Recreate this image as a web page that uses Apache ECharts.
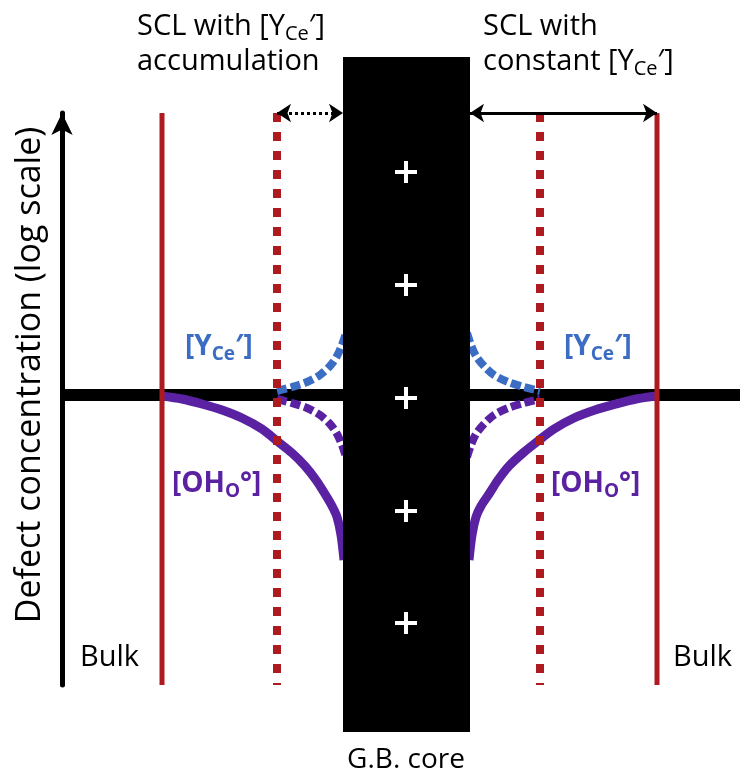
<!DOCTYPE html>
<html>
<head>
<meta charset="utf-8">
<script src="https://cdn.jsdelivr.net/npm/echarts@6/dist/echarts.min.js"></script>
<style>
  html, body { margin: 0; padding: 0; background: #fff; }
  #main { width: 740px; height: 783px; }
</style>
</head>
<body>
<div id="main"></div>
<script>
// x = distance (arbitrary units), y = log concentration relative to bulk (0)
const xRange = [0, 678];
const yRange = [-290, 282];

const bulkLevel = [[0, 0], [678, 0]];
const bulkEdges = [100, 595];        // solid red lines
const sclEdges = [215, 478];         // dotted red lines
const core = [281, 338, 408, -337];  // x0, yTop, x1, yBottom
const plusX = 344;
const plusY = [223, 110, -3, -116, -228];

// [OHo°] solid, full SCL
const ohLeft = [[100, -1], [120, -4], [140, -9], [160, -15], [180, -23], [200, -34], [215, -46],
  [230, -58], [243, -71], [254, -85], [263, -99], [270, -111], [275, -122], [279, -140], [282, -165]];
const ohRight = [[407, -165], [410, -140], [414, -122], [419, -111], [427, -99], [436, -85], [447, -71],
  [461, -58], [476, -46], [492, -34], [512, -23], [533, -15], [554, -9], [574, -4], [595, -1]];

// dashed: accumulation case
const yLeftDash = [[215, 4], [230, 8], [245, 13], [258, 20], [268, 29], [275, 39], [280, 50], [284, 62]];
const yRightDash = [[405, 62], [409, 50], [414, 39], [422, 29], [432, 20], [446, 13], [462, 8], [478, 4]];
const ohLeftDash = [[215, -4], [230, -8], [245, -13], [258, -20], [268, -29], [275, -39], [280, -50], [284, -62]];
const ohRightDash = [[405, -62], [409, -50], [414, -39], [422, -29], [432, -20], [446, -13], [462, -8], [478, -4]];

const arrowTop = 282;

const RED = '#ad1a20';
const BLUE = '#3b6dc4';
const PURPLE = '#5a22a2';
const FONT = '"Open Sans", "Noto Sans", sans-serif';

const myChart = echarts.init(document.getElementById('main'));

function curve(data, color, dashed) {
  return {
    type: 'line', data: data, smooth: 0.3, symbol: 'none', z: 2,
    lineStyle: { color: color, width: dashed ? 8 : 9, type: dashed ? [10, 4] : 'solid' }
  };
}
function vline(x, dotted) {
  return {
    type: 'line', data: [[x, yRange[1]], [x, yRange[0]]], symbol: 'none', z: 4,
    lineStyle: { color: RED, width: dotted ? 8 : 5, type: dotted ? [9, 10] : 'solid' }
  };
}

const subRich = (color, size, bold) => ({
  n: { fontSize: size, fontFamily: FONT, fill: color, fontWeight: bold ? 'bold' : 'normal', lineHeight: size + 6 },
  s: { fontSize: Math.round(size * 0.68), fontFamily: FONT, fill: color, fontWeight: bold ? 'bold' : 'normal',
       verticalAlign: 'bottom', lineHeight: Math.round(size * 0.6) }
});

function label(x, y, text, color, size, bold, align) {
  return {
    type: 'text', x: x, y: y, z: 10,
    style: { text: text, fill: color, rich: subRich(color, size, bold), align: align || 'left', verticalAlign: 'middle' }
  };
}

myChart.setOption({
  animation: false,
  grid: { left: 62, right: 0, top: 113, bottom: 98 },
  xAxis: { type: 'value', min: xRange[0], max: xRange[1], show: false },
  yAxis: {
    type: 'value', min: yRange[0], max: yRange[1],
    axisLine: { show: true, onZero: false, symbol: ['none', 'arrow'], symbolSize: [16, 22],
      lineStyle: { color: '#000', width: 5 } },
    axisTick: { show: false }, axisLabel: { show: false }, splitLine: { show: false }
  },
  graphic: [
    { type: 'text', x: 30, y: 375, rotation: Math.PI / 2, z: 10,
      style: { text: 'Defect concentration (log scale)', font: '34px ' + FONT, fill: '#000',
        align: 'center', verticalAlign: 'middle' } },
    label(137, 44, '{n|SCL with [Y}{s|Ce}{n|′]}\n{n|accumulation}', '#000', 29, false),
    label(483, 44, '{n|SCL with}\n{n|constant [Y}{s|Ce}{n|′]}', '#000', 29, false),
    label(185, 347, '{n|[Y}{s|Ce}{n|′]}', BLUE, 28, true),
    label(564, 347, '{n|[Y}{s|Ce}{n|′]}', BLUE, 28, true),
    label(172, 484, '{n|[OH}{s|O}{n|°]}', PURPLE, 28, true),
    label(551, 484, '{n|[OH}{s|O}{n|°]}', PURPLE, 28, true),
    label(80, 658, '{n|Bulk}', '#000', 29, false),
    label(673, 658, '{n|Bulk}', '#000', 29, false),
    label(406, 760, '{n|G.B. core}', '#000', 28, false, 'center')
  ],
  series: [
    { type: 'line', data: bulkLevel, symbol: 'none', z: 1, lineStyle: { color: '#000', width: 12 } },
    curve(ohLeft, PURPLE, false),
    curve(ohRight, PURPLE, false),
    curve(yLeftDash, BLUE, true),
    curve(yRightDash, BLUE, true),
    curve(ohLeftDash, PURPLE, true),
    curve(ohRightDash, PURPLE, true),
    {
      type: 'custom', z: 3, clip: false,
      data: [core],
      renderItem: function (params, api) {
        const p0 = api.coord([api.value(0), api.value(1)]);
        const p1 = api.coord([api.value(2), api.value(3)]);
        return { type: 'rect', shape: { x: p0[0], y: p0[1], width: p1[0] - p0[0], height: p1[1] - p0[1] },
          style: { fill: '#000' } };
      }
    },
    vline(bulkEdges[0], false), vline(bulkEdges[1], false),
    vline(sclEdges[0], true), vline(sclEdges[1], true),
    {
      type: 'scatter', z: 5, symbol: 'path://M9,0H13V9H22V13H13V22H9V13H0V9H9Z', symbolSize: 22,
      itemStyle: { color: '#fff', opacity: 1 },
      data: plusY.map(y => [plusX, y])
    },
    {
      type: 'lines', coordinateSystem: 'cartesian2d', clip: false, z: 6,
      symbol: ['arrow', 'arrow'], symbolSize: 14,
      lineStyle: { color: '#000', width: 3, opacity: 1 },
      data: [
        { coords: [[sclEdges[0], arrowTop], [core[0], arrowTop]], lineStyle: { type: [3, 3] } },
        { coords: [[core[2], arrowTop], [bulkEdges[1], arrowTop]] }
      ]
    }
  ]
});
</script>
</body>
</html>
